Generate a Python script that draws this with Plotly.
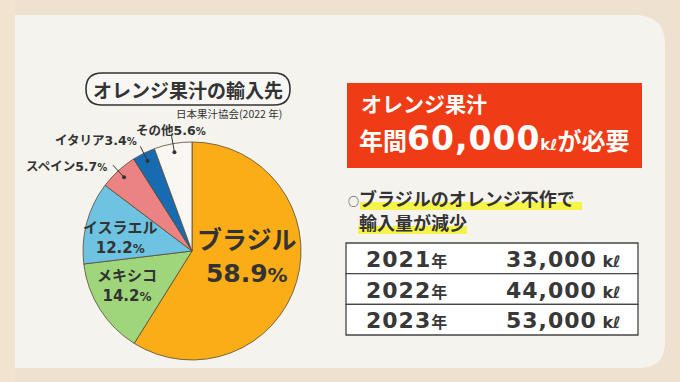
import math
import plotly.graph_objects as go

# ---------------- data ----------------
countries = ["ブラジル", "メキシコ", "イスラエル", "スペイン", "イタリア", "その他"]
shares = [58.9, 14.2, 12.2, 5.7, 3.4, 5.6]
slice_colors = ["#fbad18", "#9fd67c", "#6ec3e2", "#eb8283", "#176bb0", "#f9f7f2"]

years = ["2021", "2022", "2023"]
volumes = [33000, 44000, 53000]
annual_need = 60000
unit = "kℓ"

chart_title = "オレンジ果汁の輸入先"
source_note = "日本果汁協会(2022 年)"
box_line1 = "オレンジ果汁"
bullet_lines = ["ブラジルのオレンジ不作で", "輸入量が減少"]

# ---------------- layout helpers ----------------
W, H = 680, 382
FONT = "DejaVu Sans, Noto Sans CJK JP"
JP = "Noto Sans CJK JP"
DARK = "#333333"


def rrect(x0, y0, x1, y1, tl=0, tr=0, br=0, bl=0):
    p = f"M {x0+tl},{y0} L {x1-tr},{y0} "
    p += f"Q {x1},{y0} {x1},{y0+tr} " if tr else ""
    p += f"L {x1},{y1-br} "
    p += f"Q {x1},{y1} {x1-br},{y1} " if br else ""
    p += f"L {x0+bl},{y1} "
    p += f"Q {x0},{y1} {x0},{y1-bl} " if bl else ""
    p += f"L {x0},{y0+tl} "
    p += f"Q {x0},{y0} {x0+tl},{y0} " if tl else ""
    return p + "Z"


shapes = []
annotations = []


def text(x, y, s, size, color=DARK, xanchor="center", family=FONT, weight="bold", align="center"):
    annotations.append(dict(x=x, y=y, xref="x", yref="y", text=s, showarrow=False,
                            xanchor=xanchor, yanchor="middle", align=align,
                            font=dict(family=family, size=size, color=color, weight=weight)))


# background panel
shapes.append(dict(type="rect", x0=0, x1=15, y0=0, y1=H, xref="x", yref="y",
                   fillcolor="#f2e2d0", line_width=0, layer="below"))
shapes.append(dict(type="path", path=rrect(15, 15, 665, 368, tr=30, br=26),
                   xref="x", yref="y", fillcolor="#f5f3ee", line_width=0, layer="below"))

# ---------------- pie ----------------
cx, cy, R = 192, 251, 109
fig = go.Figure()
fig.add_trace(go.Pie(
    labels=countries, values=shares, sort=False, direction="clockwise", rotation=0,
    marker=dict(colors=slice_colors, line=dict(color="#5b4a33", width=0.8)),
    textinfo="none", hoverinfo="label+percent", showlegend=False,
    domain=dict(x=[(cx - R) / W, (cx + R) / W], y=[1 - (cy + R) / H, 1 - (cy - R) / H]),
))

# title pill + source
shapes.append(dict(type="path", path=rrect(86, 73, 290, 105, 16, 16, 16, 16), xref="x", yref="y",
                   fillcolor="#f8f7f3", line=dict(color=DARK, width=1.6)))
text(188, 89, chart_title, 19, family=JP)
text(284, 113, source_note, 10.5, xanchor="right", family=JP, weight="normal")


def pct(v, small):
    return f"{v}<span style='font-size:{small}px'>%</span>"


# inside labels
text(247, 257, f"{countries[0]}<br>{pct(shares[0], 20)}", 25)
text(127, 286, f"{countries[1]}<br>{pct(shares[1], 12)}", 15)
text(120, 238, f"{countries[2]}<br>{pct(shares[2], 12)}", 15)

# leader lines + dots for the small slices
cum = 0
mids = []
for s in shares:
    mids.append((cum + s / 2) / 100 * 2 * math.pi)
    cum += s
for i in (3, 4, 5):
    th = mids[i]
    x1, y1 = cx + 0.92 * R * math.sin(th), cy - 0.92 * R * math.cos(th)
    x2, y2 = cx + 1.07 * R * math.sin(th), cy - 1.07 * R * math.cos(th)
    shapes.append(dict(type="line", x0=x1, y0=y1, x1=x2, y1=y2, xref="x", yref="y",
                       line=dict(color=DARK, width=1)))
    shapes.append(dict(type="circle", x0=x1 - 2, x1=x1 + 2, y0=y1 - 2, y1=y1 + 2, xref="x", yref="y",
                       fillcolor=DARK, line_width=0))

text(109, 166, f"{countries[3]}{pct(shares[3], 10)}", 12.5, xanchor="right")
text(139, 140, f"{countries[4]}{pct(shares[4], 10)}", 12.5, xanchor="right")
text(171, 130, f"{countries[5]}{pct(shares[5], 10)}", 12.5)

# ---------------- red box ----------------
shapes.append(dict(type="rect", x0=347, x1=642, y0=83, y1=168, xref="x", yref="y",
                   fillcolor="#ef3b16", line_width=0))
text(359, 103, box_line1, 21, color="white", xanchor="left", family=JP)
line2 = ("<span style='font-size:24px'>年間</span>"
         f"<span style='letter-spacing:1px'>{annual_need:,}</span>"
         f"<span style='font-size:15px'>{unit}</span>"
         "<span style='font-size:24px'>が必要</span>")
text(357, 138, line2, 33, color="white", xanchor="left")

# ---------------- bullet with highlight ----------------
shapes.append(dict(type="rect", x0=360, x1=582, y0=202, y1=210, xref="x", yref="y",
                   fillcolor="#f6f34a", line_width=0))
shapes.append(dict(type="rect", x0=358, x1=467, y0=226, y1=234, xref="x", yref="y",
                   fillcolor="#f6f34a", line_width=0))
text(346, 198, "<span style='font-size:11px'>○</span>" + bullet_lines[0], 18, xanchor="left", family=JP)
text(357, 222, bullet_lines[1], 18, xanchor="left", family=JP)

# ---------------- table ----------------
rows_y = [243, 273.7, 304.3, 335]
for i, (yr, vol) in enumerate(zip(years, volumes)):
    shapes.append(dict(type="rect", x0=346, x1=638, y0=rows_y[i], y1=rows_y[i + 1], xref="x", yref="y",
                       fillcolor="white", line=dict(color="#454545", width=1.3)))
    yc = (rows_y[i] + rows_y[i + 1]) / 2 + 1
    text(364, yc, f"<span style='letter-spacing:1px'>{yr}</span><span style='font-size:16px'>年</span>",
         22, xanchor="left", weight=600, color="#383838")
    text(623, yc, f"<span style='letter-spacing:1px'>{vol:,}</span><span style='font-size:16px'> {unit}</span>",
         22, xanchor="right", weight=600, color="#383838")

fig.update_layout(
    width=W, height=H, margin=dict(l=0, r=0, t=0, b=0),
    paper_bgcolor="#efe1cf", plot_bgcolor="rgba(0,0,0,0)",
    xaxis=dict(range=[0, W], visible=False, fixedrange=True),
    yaxis=dict(range=[H, 0], visible=False, fixedrange=True),
    shapes=shapes, annotations=annotations,
)
fig.write_html("out.html", config={"displayModeBar": False},
               post_script="document.body.style.margin='0';")
